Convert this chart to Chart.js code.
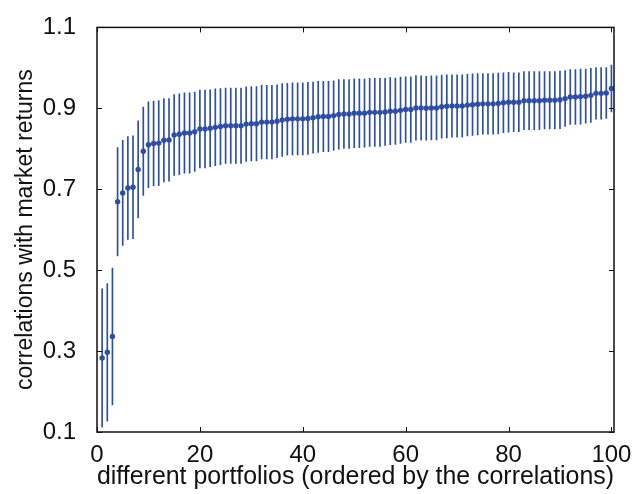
<!DOCTYPE html>
<html>
<head>
<meta charset="utf-8">
<script src="https://cdn.jsdelivr.net/npm/chart.js@4.4.0/dist/chart.umd.min.js"></script>
<style>
  html, body { margin: 0; padding: 0; background: #fff; }
</style>
</head>
<body>
<canvas id="corrChart" width="635" height="494"></canvas>
<script>
// portfolio number, ordered by correlation
const portfolios = [
  1, 2, 3, 4, 5, 6, 7, 8, 9, 10, 11, 12, 13, 14, 15, 16, 17, 18, 19, 20,
  21, 22, 23, 24, 25, 26, 27, 28, 29, 30, 31, 32, 33, 34, 35, 36, 37, 38, 39, 40,
  41, 42, 43, 44, 45, 46, 47, 48, 49, 50, 51, 52, 53, 54, 55, 56, 57, 58, 59, 60,
  61, 62, 63, 64, 65, 66, 67, 68, 69, 70, 71, 72, 73, 74, 75, 76, 77, 78, 79, 80,
  81, 82, 83, 84, 85, 86, 87, 88, 89, 90, 91, 92, 93, 94, 95, 96, 97, 98, 99, 100
];

// correlation with market returns
const correlations = [
  0.283, 0.297, 0.336, 0.669, 0.691, 0.703, 0.705, 0.749, 0.794, 0.810,
  0.813, 0.814, 0.821, 0.822, 0.834, 0.836, 0.839, 0.839, 0.842, 0.849,
  0.849, 0.851, 0.853, 0.855, 0.857, 0.857, 0.857, 0.857, 0.861, 0.862,
  0.862, 0.866, 0.866, 0.866, 0.868, 0.871, 0.873, 0.874, 0.874, 0.874,
  0.875, 0.877, 0.879, 0.880, 0.880, 0.882, 0.885, 0.886, 0.886, 0.888,
  0.888, 0.888, 0.890, 0.890, 0.890, 0.891, 0.893, 0.893, 0.895, 0.897,
  0.897, 0.901, 0.901, 0.900, 0.901, 0.901, 0.904, 0.905, 0.906, 0.906,
  0.906, 0.908, 0.909, 0.910, 0.911, 0.911, 0.911, 0.912, 0.914, 0.915,
  0.915, 0.915, 0.919, 0.919, 0.919, 0.919, 0.920, 0.920, 0.920, 0.921,
  0.924, 0.928, 0.928, 0.929, 0.930, 0.932, 0.937, 0.937, 0.938, 0.949
];

// half length of each error bar
const errors = [
  0.171, 0.170, 0.169, 0.134, 0.130, 0.127, 0.127, 0.120, 0.109, 0.106,
  0.105, 0.105, 0.103, 0.102, 0.100, 0.100, 0.099, 0.099, 0.098, 0.096,
  0.096, 0.095, 0.095, 0.094, 0.093, 0.093, 0.093, 0.093, 0.092, 0.092,
  0.092, 0.091, 0.091, 0.091, 0.090, 0.090, 0.089, 0.089, 0.089, 0.089,
  0.089, 0.088, 0.088, 0.087, 0.087, 0.086, 0.086, 0.085, 0.085, 0.085,
  0.085, 0.084, 0.084, 0.084, 0.084, 0.083, 0.083, 0.082, 0.082, 0.081,
  0.081, 0.080, 0.079, 0.079, 0.079, 0.079, 0.078, 0.078, 0.077, 0.077,
  0.077, 0.076, 0.076, 0.076, 0.075, 0.075, 0.075, 0.075, 0.074, 0.074,
  0.073, 0.073, 0.072, 0.072, 0.072, 0.072, 0.071, 0.071, 0.071, 0.071,
  0.069, 0.068, 0.068, 0.068, 0.067, 0.067, 0.064, 0.064, 0.063, 0.058
];

const xTicks = [0, 20, 40, 60, 80, 100];
const yTicks = [0.1, 0.3, 0.5, 0.7, 0.9, 1.1];

const blue = "#2e4ea4";
const fontFamily = "'Liberation Sans', Arial, Helvetica, sans-serif";

const pointData = portfolios.map((p, i) => ({ x: p, y: correlations[i] }));
const barData = portfolios.map((p, i) => ({
  x: p,
  y: [correlations[i] - errors[i], correlations[i] + errors[i]],
}));

// box round the plot with inward ticks, matlab style
const frameBox = {
  id: "frameBox",
  afterDraw(chart) {
    const { ctx, chartArea: a, scales } = chart;
    ctx.save();
    ctx.strokeStyle = "#111";
    ctx.lineWidth = 1.5;
    ctx.strokeRect(a.left, a.top, a.right - a.left, a.bottom - a.top);
    ctx.lineWidth = 1;
    ctx.beginPath();
    xTicks.forEach((v) => {
      const px = Math.round(scales.x.getPixelForValue(v)) + 0.5;
      ctx.moveTo(px, a.bottom);
      ctx.lineTo(px, a.bottom - 5);
      ctx.moveTo(px, a.top);
      ctx.lineTo(px, a.top + 5);
    });
    yTicks.forEach((v) => {
      const py = Math.round(scales.y.getPixelForValue(v)) + 0.5;
      ctx.moveTo(a.left, py);
      ctx.lineTo(a.left + 5, py);
      ctx.moveTo(a.right, py);
      ctx.lineTo(a.right - 5, py);
    });
    ctx.stroke();
    ctx.restore();
  },
};

new Chart(document.getElementById("corrChart"), {
  type: "scatter",
  data: {
    datasets: [
      {
        type: "bar",
        data: barData,
        backgroundColor: blue,
        borderWidth: 0,
        barThickness: 1,
        grouped: false,
        order: 2,
      },
      {
        type: "scatter",
        data: pointData,
        backgroundColor: blue,
        borderWidth: 0,
        pointRadius: 2.7,
        order: 1,
      },
    ],
  },
  options: {
    responsive: false,
    animation: false,
    devicePixelRatio: 1,
    layout: { padding: { left: 0, top: 24, right: 21, bottom: 0 } },
    plugins: {
      legend: { display: false },
      tooltip: { enabled: false },
    },
    scales: {
      x: {
        type: "linear",
        offset: false,
        min: 0,
        max: 100.5,
        grid: { display: false, offset: false },
        border: { display: false },
        afterBuildTicks: (scale) => {
          scale.ticks = xTicks.map((v) => ({ value: v }));
        },
        afterFit: (scale) => {
          scale.height = 62;
        },
        ticks: {
          color: "#111",
          padding: 1,
          maxRotation: 0,
          font: { family: fontFamily, size: 24 },
        },
        title: {
          display: true,
          text: "different portfolios (ordered by the correlations)",
          color: "#111",
          padding: { top: 0, bottom: 2 },
          font: { family: fontFamily, size: 25 },
        },
      },
      y: {
        type: "linear",
        min: 0.1,
        max: 1.1,
        grid: { display: false },
        border: { display: false },
        afterBuildTicks: (scale) => {
          scale.ticks = yTicks.map((v) => ({ value: v }));
        },
        afterFit: (scale) => {
          scale.width = 97;
        },
        ticks: {
          color: "#111",
          padding: 13,
          callback: (v) => v.toFixed(1),
          font: { family: fontFamily, size: 24 },
        },
        title: {
          display: true,
          text: "correlations with market returns",
          color: "#111",
          padding: { top: 12, bottom: 0 },
          font: { family: fontFamily, size: 23 },
        },
      },
    },
  },
  plugins: [frameBox],
});
</script>
</body>
</html>
